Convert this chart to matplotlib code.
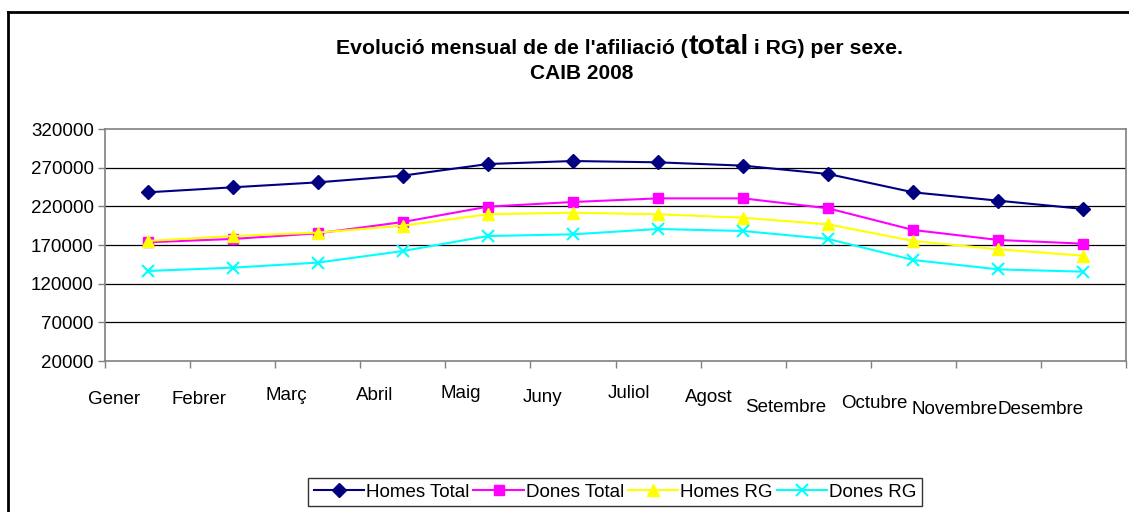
import matplotlib
matplotlib.use("Agg")
import matplotlib.pyplot as plt
from matplotlib.lines import Line2D
from matplotlib.transforms import blended_transform_factory

plt.rcParams["font.family"] = ["Liberation Sans", "DejaVu Sans"]

months = ["Gener", "Febrer", "Març", "Abril", "Maig", "Juny",
          "Juliol", "Agost", "Setembre", "Octubre", "Novembre", "Desembre"]
homes_total = [238100, 244600, 251000, 259700, 274700, 278600,
               276900, 272600, 261800, 238100, 227300, 216600]
dones_total = [173500, 177800, 185100, 199700, 219600, 225600,
               230300, 230300, 217400, 189400, 176500, 171700]
homes_rg = [175200, 181600, 186000, 195000, 209700, 211800,
            209700, 205300, 196700, 175200, 164400, 156200]
dones_rg = [136400, 140700, 147200, 162200, 181600, 183800,
            190700, 188100, 177800, 150600, 138500, 135500]
yticks = [20000, 70000, 120000, 170000, 220000, 270000, 320000]

W, H = 1129, 512
fig = plt.figure(figsize=(W / 100, H / 100), dpi=100)
fig.patch.set_facecolor("white")

# plot area in pixels: x 105..1126, y 129..361
ax = fig.add_axes([105 / W, 1 - 361 / H, (1126 - 105) / W, (361 - 129) / H])
x = range(len(months))

ax.plot(x, homes_total, color="#000080", marker="D", markersize=7, lw=1.5, label="Homes Total")
ax.plot(x, dones_total, color="#FF00FF", marker="s", markersize=7.5, lw=1.5, label="Dones Total")
ax.plot(x, homes_rg, color="#FFFF00", marker="^", markersize=9, lw=1.5, label="Homes RG")
ax.plot(x, dones_rg, color="#00FFFF", marker="x", markersize=8, mew=1.5, lw=1.5, label="Dones RG")

ax.set_xlim(-0.5, len(months) - 0.5)
ax.set_ylim(yticks[0], yticks[-1])
ax.set_yticks(yticks)
ax.set_yticklabels([str(v) for v in yticks], fontsize=13.5)
ax.set_xticks([i - 0.5 for i in range(len(months) + 1)])
ax.set_xticklabels([])
ax.tick_params(axis="both", direction="out", length=5, width=1, color="#808080", pad=3)
for s in ax.spines.values():
    s.set_color("#808080")
    s.set_linewidth(1.2)
for v in yticks[1:-1]:
    ax.axhline(v, color="black", lw=0.9, zorder=0.5)

# staggered month labels, as in the original
label_dx = [-33, -34, -31, -28, -27, -30, -29, -34, -42, -39, -44, -43]
label_y = [399, 400, 396, 395, 394, 397, 394, 398, 407, 403, 409, 409]
tr = blended_transform_factory(ax.transData, fig.transFigure)
for i, m in enumerate(months):
    ax.text(i + label_dx[i] / 85, 1 - label_y[i] / H, m, transform=tr,
            ha="center", va="center", fontsize=13.5, clip_on=False)

# title, with "total" larger
renderer = fig.canvas.get_renderer()
parts = [("Evolució mensual de de l'afiliació (", 15.3), ("total", 20.5), (" i RG) per sexe.", 15.3)]
texts = []
for s, fs in parts:
    t = fig.text(0, 1 - 54 / H, s, fontsize=fs, fontweight="bold", va="baseline", ha="left")
    texts.append(t)
widths = [t.get_window_extent(renderer).width for t in texts]
xpos = 620 - sum(widths) / 2
for t, w in zip(texts, widths):
    t.set_x(xpos / W)
    xpos += w
fig.text(582 / W, 1 - 79 / H, "CAIB 2008", fontsize=15, fontweight="bold", ha="center", va="baseline")

# outer chart frame (left and top only visible)
fig.add_artist(Line2D([8 / W, 8 / W], [0, 1 - 12 / H], color="black", lw=2, transform=fig.transFigure))
fig.add_artist(Line2D([8 / W, 1], [1 - 12 / H, 1 - 12 / H], color="black", lw=2, transform=fig.transFigure))

leg = fig.legend(loc="center", bbox_to_anchor=(615 / W, 1 - 492 / H), ncol=4, fontsize=13.5,
                 frameon=True, fancybox=False, edgecolor="black", handlelength=2.7,
                 handletextpad=0.1, columnspacing=0.2, borderpad=0.3, borderaxespad=0)
leg.get_frame().set_linewidth(1)

fig.savefig("out.png", dpi=100)
